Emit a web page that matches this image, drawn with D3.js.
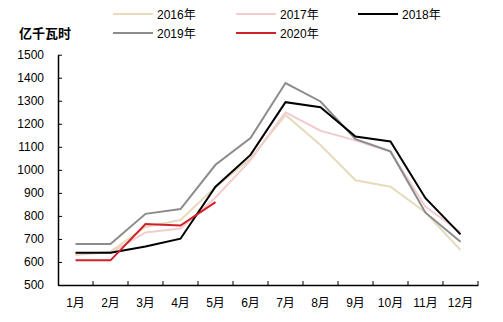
<!DOCTYPE html>
<html><head><meta charset="utf-8">
<script src="https://cdn.jsdelivr.net/npm/d3@7"></script>
<style>
body{margin:0;background:#fff;}
text{font-family:"Liberation Sans","Noto Sans CJK SC",sans-serif;}
</style></head>
<body>
<svg id="c" width="503" height="322"></svg>
<script>
const months = ["1月","2月","3月","4月","5月","6月","7月","8月","9月","10月","11月","12月"];
const yTicks = [500,600,700,800,900,1000,1100,1200,1300,1400,1500];
const seriesNames = ["2016年","2017年","2018年","2019年","2020年"];
const v2016 = [630,645,752,782,925,1050,1238,1108,955,927,815,652];
const v2017 = [635,640,728,745,880,1042,1250,1170,1128,1078,840,730];
const v2018 = [640,640,667,701,927,1065,1294,1272,1145,1123,877,720];
const v2019 = [678,678,809,830,1022,1138,1377,1297,1133,1080,814,688];
const v2020 = [607,607,765,758,860];
const colors = ["#e6dbbd","#f2cdd0","#000000","#8c8c8c","#d0202a"];

const svg = d3.select("#c");
const x = d3.scaleBand().domain(months).range([58,478]);
const y = d3.scaleLinear().domain([500,1500]).range([285,54.7]);

// axes
const yAxis = svg.append("g").attr("transform","translate(58,0)")
  .call(d3.axisLeft(y).tickValues(yTicks).tickSizeInner(-4).tickSizeOuter(0).tickPadding(14).tickFormat(d3.format("d")));
const xAxis = svg.append("g").attr("transform","translate(0,285)")
  .call(d3.axisBottom(x).tickSize(0).tickPadding(13));
[yAxis,xAxis].forEach(g=>{
  g.select(".domain").attr("stroke","#000").attr("stroke-width",1.5);
  g.selectAll("text").attr("font-size",12).attr("fill","#000");
  g.selectAll("line").attr("stroke","#000");
});
// x ticks at band boundaries pointing up
const bounds = months.map(m=>x(m)).slice(1).concat([x(months[11])+x.bandwidth()]);
svg.append("g").selectAll("line").data(bounds).join("line")
  .attr("x1",d=>d).attr("x2",d=>d).attr("y1",285).attr("y2",281)
  .attr("stroke","#000").attr("stroke-width",1);

// lines
const data = [v2016,v2017,v2018,v2019,v2020];
const line = d3.line().x((d,i)=>x(months[i])+x.bandwidth()/2).y(d=>y(d));
const order = [0,1,3,2,4];
order.forEach(k=>{
  svg.append("path").datum(data[k]).attr("d",line)
    .attr("fill","none").attr("stroke",colors[k]).attr("stroke-width",2)
    .attr("stroke-linejoin","miter");
});

// title
svg.append("text").attr("x",19).attr("y",38).attr("font-size",13).attr("font-weight","bold")
  .style("font-family","'Noto Sans CJK SC',sans-serif").text("亿千瓦时");

// legend
const legPos = [[113,14],[236,14],[358,14],[113,33],[236,33]];
seriesNames.forEach((n,k)=>{
  const [lx,ly] = legPos[k];
  svg.append("line").attr("x1",lx).attr("x2",lx+40).attr("y1",ly).attr("y2",ly)
    .attr("stroke",colors[k]).attr("stroke-width",2);
  svg.append("text").attr("x",lx+44).attr("y",ly+4.5).attr("font-size",12).text(n);
});
</script>
</body></html>
